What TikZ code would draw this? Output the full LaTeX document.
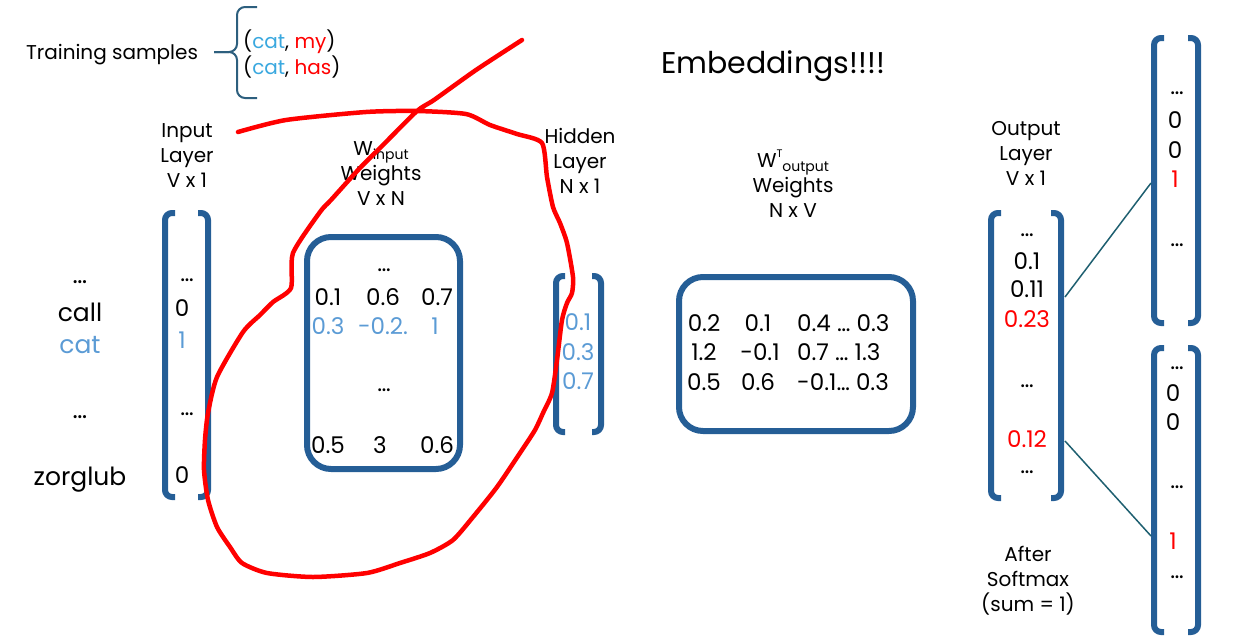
\documentclass[tikz,border=0pt]{standalone}
\usepackage{fontspec}
\setmainfont{Poppins}

\definecolor{boxblue}{HTML}{255E96}
\definecolor{catblue}{HTML}{3AA8DF}
\definecolor{valblue}{HTML}{5B9BD5}
\definecolor{penred}{HTML}{FF0000}
\definecolor{bracecol}{HTML}{2D5F7E}
\definecolor{linkcol}{HTML}{1E5F70}

\tikzset{
  mbox/.style={draw=boxblue, line width=6pt, rounded corners=24pt},
  brack/.style={draw=boxblue, line width=6pt, rounded corners=7pt},
  lbl/.style={inner sep=0pt, font=\fontsize{20}{25}\selectfont, align=center},
  word/.style={inner sep=0pt, font=\fontsize{25}{30}\selectfont},
  num/.style={inner sep=0pt, font=\fontsize{23}{28}\selectfont},
  link/.style={draw=linkcol, line width=1.5pt},
  redpen/.style={draw=penred, line width=4.5pt, line cap=round, line join=round},
}
\newcommand{\subtxt}[1]{\raisebox{-0.3ex}{\fontsize{14}{14}\selectfont #1}}
\newcommand{\suptxt}[1]{\raisebox{0.9ex}{\fontsize{11}{11}\selectfont #1}}

\begin{document}
\begin{tikzpicture}[x=1pt, y=-1pt]
\useasboundingbox (0,0) rectangle (1237,637);

% training samples
\node[lbl] (train) at (112,55) {Training samples};
\draw[draw=bracecol, line width=2pt, rounded corners=8pt] (214,52) -- (237,52) -- (237,7) -- (257,7);
\draw[draw=bracecol, line width=2pt, rounded corners=8pt] (214,52) -- (237,52) -- (237,98) -- (257,98);
\node[lbl, anchor=west] (pair1) at (243,42) {(\textcolor{catblue}{cat}, \textcolor{penred}{my})};
\node[lbl, anchor=west] (pair2) at (243,67) {(\textcolor{catblue}{cat}, \textcolor{penred}{has})};

\node[inner sep=0pt, font=\fontsize{30}{36}\selectfont] (emb) at (773,66) {Embeddings!!!!};

% input layer
\node[lbl] (intitle) at (187,156) {Input\\Layer\\V x 1};
\draw[brack] (175,213) -- (165,213) -- (165,497) -- (175,497);
\draw[brack] (198,213) -- (208,213) -- (208,497) -- (198,497);
\node[num] (indots1) at (187,280) {…};
\node[num] (in0) at (182,308) {0};
\node[num, text=valblue] (in1) at (182,340) {1};
\node[num] (indots2) at (187,414) {…};
\node[num] (inlast) at (182,475) {0};

\node[word] (wdots1) at (80,282) {…};
\node[word] (wcall) at (80,312) {call};
\node[word, text=valblue] (wcat) at (80,345) {cat};
\node[word] (wdots2) at (80,417) {…};
\node[word] (wzorg) at (80,480) {zorglub};

% input weights
\node[lbl] (wintitle) at (381,174) {W\subtxt{input}\\Weights\\V x N};
\draw[mbox] (307,237) rectangle (460,469);
\node[num] (wdots1) at (384,270) {…};
\node[num] (w11) at (328,297) {0.1};
\node[num] (w12) at (383,297) {0.6};
\node[num] (w13) at (437,297) {0.7};
\node[num, text=valblue] (w21) at (328,326) {0.3};
\node[num, text=valblue] (w22) at (383,326) {-0.2.};
\node[num, text=valblue] (w23) at (435,326) {1};
\node[num] (wdots2) at (384,390) {…};
\node[num] (w31) at (328,445) {0.5};
\node[num] (w32) at (380,445) {3};
\node[num] (w33) at (437,445) {0.6};

% hidden layer
\node[lbl] (hidtitle) at (580,161) {Hidden\\Layer\\N x 1};
\draw[brack] (565,276) -- (556,276) -- (556,432) -- (565,432);
\draw[brack] (592,276) -- (601,276) -- (601,432) -- (592,432);
\node[num, text=valblue] (h1) at (578,322) {0.1};
\node[num, text=valblue] (h2) at (578,352) {0.3};
\node[num, text=valblue] (h3) at (578,381) {0.7};

% output weights
\node[lbl] (wouttitle) at (793,184) {W\suptxt{T}\subtxt{output}\\Weights\\N x V};
\draw[mbox] (679,277) rectangle (913,431);
\node[num] (v11) at (704,323) {0.2};
\node[num] (v12) at (758,323) {0.1};
\node[num, anchor=west] (v13) at (797,323) {0.4 … 0.3};
\node[num] (v21) at (704,352) {1.2};
\node[num] (v22) at (760,352) {-0.1};
\node[num, anchor=west] (v23) at (797,352) {0.7 … 1.3};
\node[num] (v31) at (704,382) {0.5};
\node[num] (v32) at (758,382) {0.6};
\node[num, anchor=west] (v33) at (797,382) {-0.1… 0.3};

% output layer
\node[lbl] (outtitle) at (1026,153) {Output\\Layer\\V x 1};
\draw[brack] (1001,213) -- (991,213) -- (991,498) -- (1001,498);
\draw[brack] (1051,213) -- (1061,213) -- (1061,498) -- (1051,498);
\node[num] (odots1) at (1027,235) {…};
\node[num] (o1) at (1027,261) {0.1};
\node[num] (o2) at (1027,289) {0.11};
\node[num, text=penred] (o3) at (1027,319) {0.23};
\node[num] (odots2) at (1027,386) {…};
\node[num, text=penred] (o4) at (1027,439) {0.12};
\node[num] (odots3) at (1027,472) {…};
\node[lbl] (softmax) at (1028,581) {After\\Softmax\\(sum = 1)};

% target vectors
\draw[brack] (1164,38) -- (1154,38) -- (1154,323) -- (1164,323);
\draw[brack] (1188,38) -- (1198,38) -- (1198,323) -- (1188,323);
\node[num] (tdots1) at (1177,93) {…};
\node[num] (t1) at (1175,120) {0};
\node[num] (t2) at (1175,150) {0};
\node[num, text=penred] (t3) at (1175,179) {1};
\node[num] (tdots2) at (1177,245) {…};

\draw[brack] (1164,348) -- (1154,348) -- (1154,632) -- (1164,632);
\draw[brack] (1188,348) -- (1198,348) -- (1198,632) -- (1188,632);
\node[num] (sdots1) at (1177,368) {…};
\node[num] (s1) at (1173,393) {0};
\node[num] (s2) at (1173,422) {0};
\node[num] (sdots2) at (1177,487) {…};
\node[num, text=penred] (s3) at (1173,541) {1};
\node[num] (sdots3) at (1177,577) {…};

\coordinate (oa) at (1065,297);
\coordinate (ta) at (1151,183);
\coordinate (ob) at (1065,441);
\coordinate (tb) at (1151,536);
\draw[link] (oa) -- (ta);
\draw[link] (ob) -- (tb);

% red pen scribble
\draw[redpen] plot[smooth, tension=0.4] coordinates {(238,132) (286,120) (366,112) (417,111) (466,114)
  (490,125) (517,134) (542,143) (547,177) (553,207) (560,223) (567,243) (573,277) (572,293)
  (567,303) (562,320) (557,360) (552,393) (543,413) (535,430) (520,453) (497,487) (473,517)
  (453,540) (430,553) (400,563) (367,573) (313,577) (267,573) (242,563) (230,547) (217,527)
  (208,500) (204,470) (205,440) (208,413) (217,377) (243,332) (260,315) (273,302) (291,288)
  (293,253) (320,212) (331,200) (359,169) (383,145) (417,111) (434,100) (476,70) (522,40)};
\end{tikzpicture}
\end{document}
